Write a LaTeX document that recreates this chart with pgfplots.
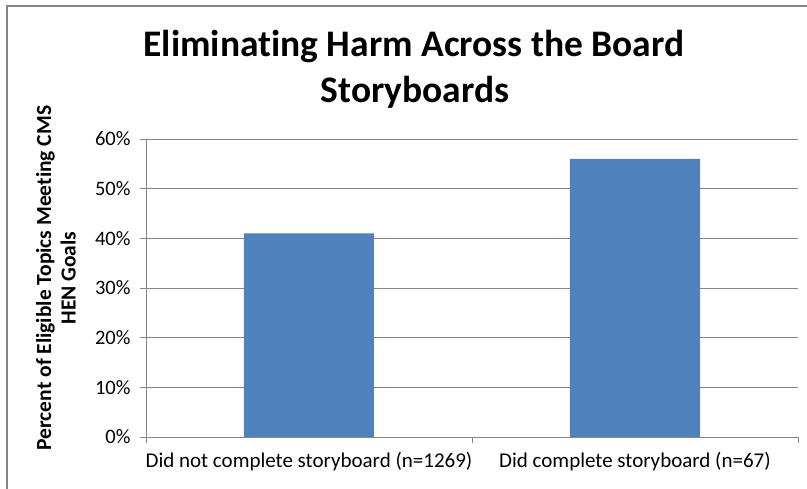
\documentclass[border=0pt]{standalone}
\usepackage{pgfplots}
\pgfplotsset{compat=1.18}
\usepackage{fontspec}
\setmainfont{Carlito}[Ligatures=NoCommon]
\definecolor{barblue}{HTML}{4F81BD}
\definecolor{gridgray}{HTML}{868686}
\begin{document}
\begin{tikzpicture}
\clip (-146pt,-52pt) rectangle (661pt,437pt);
\draw[gridgray,line width=1.5pt] (-139pt,-80pt) rectangle (700pt,431pt);
\begin{axis}[
  at={(0pt,0pt)}, anchor=south west,
  scale only axis, width=652pt, height=298pt,
  xmin=0, xmax=2, ymin=0, ymax=60,
  axis x line*=bottom, axis y line*=left,
  axis line style={gridgray, line width=0.8pt},
  ytick={0,10,20,30,40,50,60},
  yticklabel={\pgfmathprintnumber{\tick}\%},
  ymajorgrids, major grid style={gridgray, line width=0.8pt},
  xtick={0,1,2}, xticklabels={},
  extra x ticks={0.5,1.5},
  extra x tick labels={Did not complete storyboard (n=1269),Did complete storyboard (n=67)},
  extra x tick style={major tick length=0pt, tick style={draw=none}},
  tick align=outside, major tick length=6pt,
  tick style={gridgray, line width=0.8pt},
  /pgf/number format/assume math mode=true,
  ticklabel style={font=\fontsize{20.5}{24}\selectfont, text=black},
  xticklabel style={yshift=-12pt, font=\fontsize{21}{24}\selectfont},
  yticklabel style={xshift=-6pt},
  ybar, bar width=130pt,
]
\addplot[fill=barblue, draw=none] coordinates {(0.5,41) (1.5,56)};
\end{axis}
\node[font=\fontsize{37.5}{44}\selectfont\bfseries, anchor=base] at (268pt,380pt) {Eliminating Harm Across the Board};
\node[font=\fontsize{37.5}{44}\selectfont\bfseries, anchor=base] at (269pt,334pt) {Storyboards};
\node[font=\fontsize{21.5}{24.5}\selectfont\bfseries, rotate=90, align=center] at (-90pt,159pt) {Percent of Eligible Topics Meeting CMS\\HEN Goals};
\end{tikzpicture}
\end{document}
